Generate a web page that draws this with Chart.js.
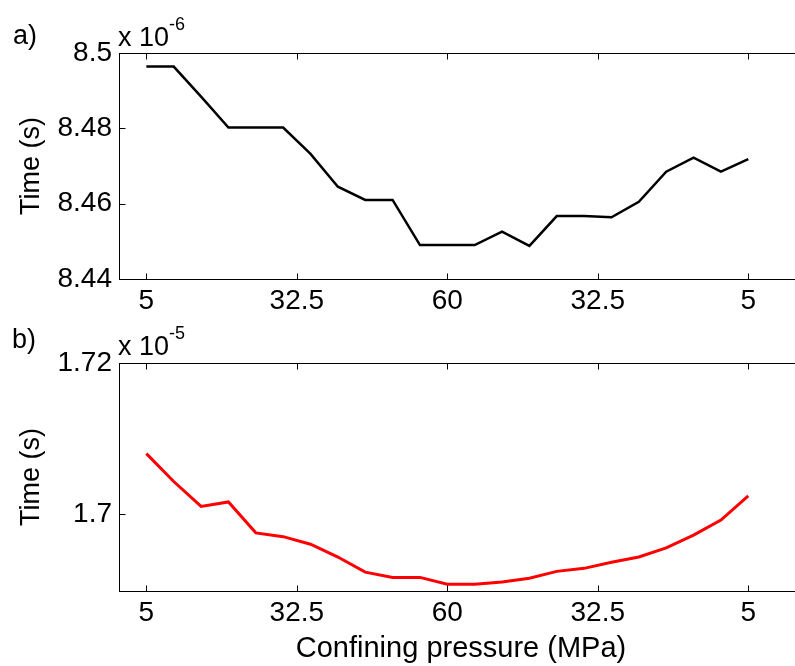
<!DOCTYPE html>
<html lang="en">
<head>
<meta charset="UTF-8">
<title>Time vs confining pressure</title>
<script src="https://cdn.jsdelivr.net/npm/chart.js"></script>
<style>
  html, body { margin: 0; padding: 0; background: #fff; overflow: hidden; }
  body { width: 795px; height: 666px; position: relative; font-family: "Liberation Sans", Arial, sans-serif; }
  .panel { position: absolute; left: 0; width: 805px; }
  #p1 { top: 0; height: 320px; }
  #p2 { top: 320px; height: 346px; }
  .lbl { position: absolute; font-size: 27px; color: #000; line-height: 1; white-space: nowrap; }
  .lbl sup { font-size: 18px; position: relative; top: -6px; }
</style>
</head>
<body>

<div class="panel" id="p1"><canvas id="grafico-a" width="805" height="320"></canvas></div>
<div class="panel" id="p2"><canvas id="grafico-b" width="805" height="346"></canvas></div>

<div class="lbl" style="left:13px; top:22px;">a)</div>
<div class="lbl" style="left:118px; top:21px;">x 10<sup>-6</sup></div>
<div class="lbl" style="left:12px; top:326px;">b)</div>
<div class="lbl" style="left:118px; top:330px;">x 10<sup>-5</sup></div>

<script>

    // pressure path: loading 5 -> 60 MPa, then unloading back to 5 MPa
    const pressao = [5, 10, 15, 20, 25, 30, 35, 40, 45, 50, 55, 60, 55, 50, 45, 40, 35, 30, 25, 20, 15, 10, 5];

    // a) travel time (x 1e-6 s)
    const tempoA = [8.4964, 8.4964, 8.4884, 8.4802, 8.4802, 8.4802, 8.4732, 8.4645, 8.4610, 8.4610, 8.4490, 8.4490,
        8.4490, 8.4526, 8.4488, 8.4567, 8.4567, 8.4564, 8.4605, 8.4685, 8.4722, 8.4685, 8.4718];

    // b) travel time (x 1e-5 s)
    const tempoB = [1.7080, 1.7043, 1.7010, 1.7016, 1.6975, 1.6970, 1.6960, 1.6943, 1.6923, 1.6916, 1.6916, 1.6907,
        1.6907, 1.6910, 1.6915, 1.6924, 1.6928, 1.6936, 1.6943, 1.6955, 1.6972, 1.6992, 1.7024];

    // x ticks sit at step positions along the path
    const xTickPos = [0, 5.5, 11, 16.5, 22];
    const xTickLabels = ['5', '32.5', '60', '32.5', '5'];

    const yTicksA = [8.44, 8.46, 8.48, 8.5];
    const yTickLabelsA = ['8.44', '8.46', '8.48', '8.5'];
    const yTicksB = [1.7, 1.72];
    const yTickLabelsB = ['1.7', '1.72'];

    const familia = '"Liberation Sans", Arial, sans-serif';
    const fonte = { family: familia, size: 28 };

    // box round the plot plus inward tick marks on all four sides
    const caixa = {
        id: 'caixa',
        afterDraw(chart) {
            const c = chart.ctx;
            const a = chart.chartArea;
            const l = Math.round(a.left) + 0.5, r = Math.round(a.right) + 0.5;
            const t = Math.round(a.top) + 0.5, b = Math.round(a.bottom) + 0.5;
            c.save();
            c.strokeStyle = '#000';
            c.lineWidth = 1;
            c.strokeRect(l, t, r - l, b - t);
            c.beginPath();
            chart.scales.x.ticks.forEach(tk => {
                const px = Math.round(chart.scales.x.getPixelForValue(tk.value)) + 0.5;
                c.moveTo(px, b); c.lineTo(px, b - 6);
                c.moveTo(px, t); c.lineTo(px, t + 6);
            });
            chart.scales.y.ticks.forEach(tk => {
                const py = Math.round(chart.scales.y.getPixelForValue(tk.value)) + 0.5;
                c.moveTo(l, py); c.lineTo(l + 6, py);
                c.moveTo(r, py); c.lineTo(r - 6, py);
            });
            c.stroke();
            c.restore();
        }
    };

    function montaGrafico(id, valores, cor, largura, yMin, yMax, yTicks, yLabels, topo, alturaX, comTitulo) {
        const ctx = document.getElementById(id).getContext('2d');
        return new Chart(ctx, {
            type: 'line',
            data: {
                datasets: [{
                    data: valores.map((v, i) => ({ x: i, y: v })),
                    borderColor: cor,
                    borderWidth: largura,
                    pointRadius: 0,
                    tension: 0,
                    fill: false
                }]
            },
            options: {
                responsive: false,
                animation: false,
                devicePixelRatio: 1,
                layout: { padding: { top: topo, right: 2, left: 0, bottom: 0 } },
                plugins: { legend: { display: false }, tooltip: { enabled: false } },
                scales: {
                    x: {
                        type: 'linear',
                        min: -1,
                        max: 24,
                        afterBuildTicks: s => { s.ticks = xTickPos.map(v => ({ value: v })); },
                        afterFit: s => { s.height = alturaX; },
                        grid: { display: false, drawTicks: false },
                        border: { display: false },
                        ticks: {
                            autoSkip: false,
                            maxRotation: 0,
                            padding: 5,
                            color: '#000',
                            font: fonte,
                            callback: (v, i) => xTickLabels[i]
                        },
                        title: {
                            display: comTitulo,
                            text: 'Confining pressure (MPa)',
                            color: '#000',
                            font: { family: familia, size: 29 },
                            padding: { top: 0, bottom: 0 }
                        }
                    },
                    y: {
                        min: yMin,
                        max: yMax,
                        afterBuildTicks: s => { s.ticks = yTicks.map(v => ({ value: v })); },
                        afterFit: s => { s.width = 119; },
                        grid: { display: false, drawTicks: false },
                        border: { display: false },
                        ticks: {
                            autoSkip: false,
                            padding: 7,
                            color: '#000',
                            font: fonte,
                            callback: (v, i) => yLabels[i]
                        },
                        title: {
                            display: true,
                            text: 'Time (s)',
                            color: '#000',
                            font: { family: familia, size: 27 },
                            padding: { top: 15, bottom: 0 }
                        }
                    }
                }
            },
            plugins: [caixa]
        });
    }

    montaGrafico('grafico-a', tempoA, '#000000', 2.5, 8.44, 8.5, yTicksA, yTickLabelsA, 53, 41, false);
    montaGrafico('grafico-b', tempoB, '#ff0000', 3, 1.6898, 1.72, yTicksB, yTickLabelsB, 43, 75, true);

</script>
</body>
</html>
